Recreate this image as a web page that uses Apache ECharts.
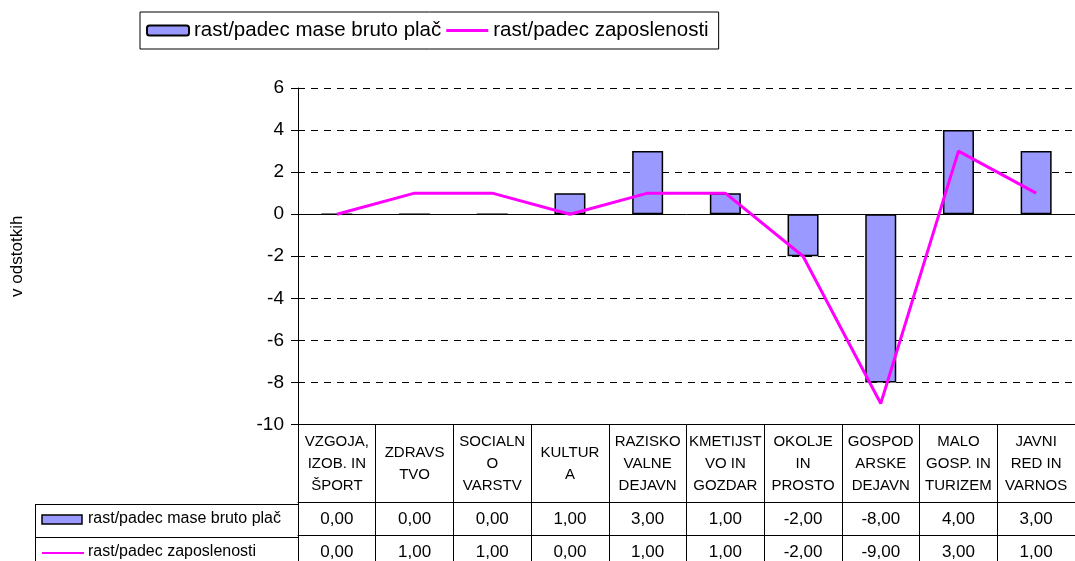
<!DOCTYPE html>
<html>
<head>
<meta charset="utf-8">
<script src="https://cdn.jsdelivr.net/npm/echarts@6/dist/echarts.min.js"></script>
<style>
  html, body { margin: 0; padding: 0; background: #fff; }
  #chart { width: 1075px; height: 561px; }
</style>
</head>
<body>
<div id="chart"></div>
<script>
// categories as they wrap in the table cells
const categories = [
    'VZGOJA,\nIZOB. IN\nŠPORT',
    'ZDRAVS\nTVO',
    'SOCIALN\nO\nVARSTV',
    'KULTUR\nA',
    'RAZISKO\nVALNE\nDEJAVN',
    'KMETIJST\nVO IN\nGOZDAR',
    'OKOLJE\nIN\nPROSTO',
    'GOSPOD\nARSKE\nDEJAVN',
    'MALO\nGOSP. IN\nTURIZEM',
    'JAVNI\nRED IN\nVARNOS',
];
const wageGrowth = [0, 0, 0, 1, 3, 1, -2, -8, 4, 3];
const employmentGrowth = [0, 1, 1, 0, 1, 1, -2, -9, 3, 1];
const barName = 'rast/padec mase bruto plač';
const lineName = 'rast/padec zaposlenosti';

const font = '"Liberation Sans", Arial, sans-serif';
const fmt = v => v.toFixed(2).replace('.', ',');

const chart = echarts.init(document.getElementById('chart'));

const tableAxis = (offset, values) => ({
    type: 'category',
    position: 'bottom',
    offset: offset,
    data: categories,
    axisLine: {onZero: false, lineStyle: {color: '#000', width: 1}},
    axisTick: {show: false},
    axisLabel: {
        interval: 0,
        margin: 17,
        verticalAlign: 'middle',
        fontFamily: font,
        fontSize: 17,
        color: '#000',
        formatter: (v, i) => fmt(values[i]),
    },
});

chart.setOption({
    animation: false,
    backgroundColor: '#fff',
    legend: {
        left: 140,
        top: 12,
        padding: [8, 10, 8, 6],
        borderColor: '#000',
        borderWidth: 1,
        itemWidth: 42,
        itemHeight: 10,
        itemGap: 5,
        textStyle: {fontFamily: font, fontSize: 20.5, color: '#000'},
        data: [
            barName,
            {name: lineName, icon: 'path://M0 0 H42 V3 H0 Z'},
        ],
    },
    grid: {left: 298, top: 88, width: 787, height: 338},
    xAxis: [
        {
            type: 'category',
            position: 'bottom',
            data: categories,
            axisLine: {onZero: false, lineStyle: {color: '#000', width: 1}},
            axisTick: {show: true, interval: 0, length: 140, lineStyle: {color: '#000', width: 1}},
            axisLabel: {
                interval: 0,
                margin: 39,
                verticalAlign: 'middle',
                fontFamily: font,
                fontSize: 15,
                lineHeight: 22,
                color: '#000',
            },
        },
        tableAxis(78, wageGrowth),
        tableAxis(111, employmentGrowth),
    ],
    yAxis: {
        type: 'value',
        min: -10,
        max: 6,
        interval: 2,
        name: 'v odstotkih',
        nameLocation: 'middle',
        nameRotate: 90,
        nameGap: 272,
        nameTextStyle: {fontFamily: font, fontSize: 17, color: '#000'},
        axisLine: {show: true, lineStyle: {color: '#000', width: 1}},
        axisTick: {show: true, length: 7, lineStyle: {color: '#000'}},
        axisLabel: {fontFamily: font, fontSize: 19, color: '#000', margin: 14},
        splitLine: {show: true, lineStyle: {color: '#000', type: [7, 6], width: 1}},
    },
    series: [
        {
            name: barName,
            type: 'bar',
            data: wageGrowth,
            barWidth: 31,
            itemStyle: {color: '#9999ff', borderColor: '#000', borderWidth: 1.5},
            markLine: {
                silent: true,
                symbol: 'none',
                label: {show: false},
                lineStyle: {color: '#000', type: 'solid', width: 1},
                data: [{yAxis: 0}],
            },
        },
        {
            name: lineName,
            type: 'line',
            data: employmentGrowth,
            symbol: 'none',
            z: 5,
            lineStyle: {color: '#ff00ff', width: 3},
            itemStyle: {color: '#ff00ff'},
        },
    ],
    graphic: [
        // left part of the data table
        {type: 'line', shape: {x1: 35, y1: 504.5, x2: 298, y2: 504.5}, style: {stroke: '#000', lineWidth: 1}},
        {type: 'line', shape: {x1: 35, y1: 537.5, x2: 298, y2: 537.5}, style: {stroke: '#000', lineWidth: 1}},
        {type: 'line', shape: {x1: 35.5, y1: 504, x2: 35.5, y2: 561}, style: {stroke: '#000', lineWidth: 1}},
        {type: 'rect', shape: {x: 42, y: 515, width: 40, height: 9}, style: {fill: '#9999ff', stroke: '#000', lineWidth: 1.5}},
        {type: 'text', left: 88, top: 511, style: {text: barName, font: '16px ' + font, fill: '#000'}},
        {type: 'line', shape: {x1: 42, y1: 553, x2: 84, y2: 553}, style: {stroke: '#ff00ff', lineWidth: 2}},
        {type: 'text', left: 88, top: 544, style: {text: lineName, font: '16px ' + font, fill: '#000'}},
    ],
});
</script>
</body>
</html>
